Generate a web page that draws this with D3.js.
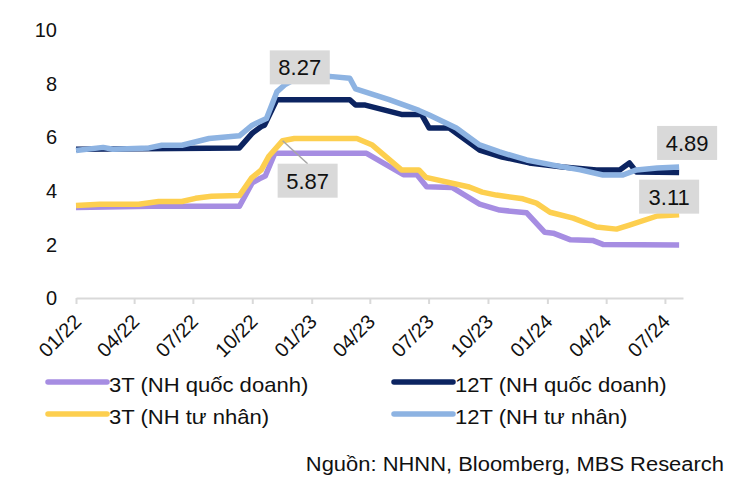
<!DOCTYPE html>
<html>
<head>
<meta charset="utf-8">
<script src="https://cdn.jsdelivr.net/npm/d3@7"></script>
<style>
  body { margin: 0; background: #fff; }
  text { font-family: "Liberation Sans", Arial, sans-serif; }
</style>
</head>
<body>
<div id="chart-area"></div>
<script>

// Series data: [date, rate %]
var qdShort = [
	["2022-01-01", 3.38], ["2022-04-28", 3.42], ["2022-09-11", 3.42], ["2022-10-01", 4.3],
	["2022-10-12", 4.45], ["2022-10-21", 4.55], ["2022-11-05", 5.4], ["2023-03-27", 5.4],
	["2023-05-23", 4.6], ["2023-06-13", 4.6], ["2023-06-28", 4.15], ["2023-08-07", 4.12],
	["2023-09-18", 3.5], ["2023-10-19", 3.28], ["2023-11-30", 3.18], ["2023-12-28", 2.45],
	["2024-01-10", 2.42], ["2024-02-06", 2.17], ["2024-03-11", 2.15], ["2024-03-27", 2.0],
	["2024-07-23", 1.98]
];
var qdLong = [
	["2022-01-01", 5.55], ["2022-09-11", 5.6], ["2022-10-01", 6.15], ["2022-10-15", 6.4],
	["2022-10-20", 6.45], ["2022-11-08", 7.4], ["2023-03-01", 7.4], ["2023-03-10", 7.2],
	["2023-03-25", 7.2], ["2023-05-20", 6.85], ["2023-06-20", 6.85], ["2023-07-02", 6.34],
	["2023-08-02", 6.34], ["2023-09-18", 5.52], ["2023-10-23", 5.26], ["2023-12-04", 5.04],
	["2024-01-25", 4.89], ["2024-03-17", 4.78], ["2024-04-22", 4.78], ["2024-05-07", 5.04],
	["2024-05-18", 4.7], ["2024-07-23", 4.68]
];
var tnShort = [
	["2022-01-01", 3.45], ["2022-02-07", 3.5], ["2022-04-08", 3.5], ["2022-05-09", 3.6],
	["2022-06-14", 3.6], ["2022-07-05", 3.72], ["2022-07-30", 3.8], ["2022-09-11", 3.82],
	["2022-09-30", 4.48], ["2022-10-15", 4.78], ["2022-10-27", 5.3], ["2022-11-17", 5.87],
	["2022-12-05", 5.95], ["2023-03-12", 5.95], ["2023-04-04", 5.72], ["2023-05-20", 4.78],
	["2023-06-16", 4.78], ["2023-06-27", 4.5], ["2023-09-02", 4.14], ["2023-09-22", 3.95],
	["2023-10-14", 3.84], ["2023-11-24", 3.7], ["2023-12-15", 3.54], ["2024-01-05", 3.2],
	["2024-02-10", 2.98], ["2024-03-17", 2.65], ["2024-04-17", 2.57], ["2024-05-07", 2.72],
	["2024-06-19", 3.06], ["2024-07-23", 3.11]
];
var tnLong = [
	["2022-01-01", 5.5], ["2022-02-12", 5.62], ["2022-02-27", 5.55], ["2022-04-24", 5.6],
	["2022-05-14", 5.7], ["2022-06-14", 5.7], ["2022-07-26", 5.95], ["2022-09-11", 6.05],
	["2022-10-01", 6.45], ["2022-10-23", 6.7], ["2022-11-08", 7.69], ["2022-11-20", 7.95],
	["2022-12-13", 8.25], ["2023-01-29", 8.27], ["2023-03-01", 8.2], ["2023-03-10", 7.8],
	["2023-05-01", 7.4], ["2023-06-16", 7.0], ["2023-07-02", 6.83], ["2023-08-13", 6.34],
	["2023-09-18", 5.71], ["2023-10-19", 5.45], ["2023-11-30", 5.15], ["2024-01-16", 4.93],
	["2024-02-21", 4.78], ["2024-03-27", 4.59], ["2024-04-27", 4.59], ["2024-05-18", 4.78],
	["2024-06-19", 4.85], ["2024-07-23", 4.89]
];

var seriesNames = ["3T (NH quốc doanh)", "12T (NH quốc doanh)", "3T (NH tư nhân)", "12T (NH tư nhân)"];
var seriesColors = ["#a68de2", "#0c2461", "#fdcf4f", "#8db3e2"];
var yTicks = [0, 2, 4, 6, 8, 10];

// data labels: series index, date, value
var labels = [
	{s: 3, date: "2023-01-29", value: 8.27, dx: -30, dy: -9},
	{s: 2, date: "2022-11-17", value: 5.87, dx: 25, dy: 40, leader: true},
	{s: 3, date: "2024-07-23", value: 4.89, dx: 8, dy: -24},
	{s: 2, date: "2024-07-23", value: 3.11, dx: -10, dy: -18}
];

var sourceText = "Nguồn: NHNN, Bloomberg, MBS Research";

var width = 750, height = 501;
var parseDate = d3.timeParse("%Y-%m-%d");

var svg = d3.select("#chart-area").append("svg")
	.attr("width", width)
	.attr("height", height);

var x = d3.scaleTime()
	.domain([parseDate("2022-01-01"), parseDate("2024-07-29")])
	.range([76, 683]);

var y = d3.scaleLinear()
	.domain([0, 10])
	.range([298, 30]);

// y labels (no axis line, no grid)
svg.selectAll(".ylab")
	.data(yTicks)
	.enter()
	.append("text")
	.attr("class", "ylab")
	.attr("x", 57)
	.attr("y", d => y(d))
	.attr("dy", "0.36em")
	.attr("text-anchor", "end")
	.attr("font-size", 20)
	.attr("fill", "#111")
	.text(d => d);

// x axis
var xAxis = d3.axisBottom(x)
	.tickValues(d3.timeMonth.range(parseDate("2022-01-01"), parseDate("2024-07-02"), 3))
	.tickFormat(d3.timeFormat("%m/%y"))
	.tickSize(6)
	.tickSizeOuter(0);

var xAxisGroup = svg.append("g")
	.attr("class", "x-axis axis")
	.attr("transform", "translate(0,298)")
	.call(xAxis);

xAxisGroup.select(".domain").attr("stroke", "#d9d9d9").attr("stroke-width", 2);
xAxisGroup.selectAll(".tick line").attr("stroke", "#d9d9d9").attr("stroke-width", 2);
xAxisGroup.selectAll(".tick text")
	.attr("font-family", "Liberation Sans, Arial, sans-serif")
	.attr("font-size", 20)
	.attr("fill", "#111")
	.attr("text-anchor", "end")
	.attr("x", 0)
	.attr("y", 0)
	.attr("dy", 0)
	.attr("transform", "translate(6,25) rotate(-45)");

// lines
var allSeries = [qdShort, qdLong, tnShort, tnLong].map(s => s.map(p => ({date: parseDate(p[0]), value: p[1]})));

var line = d3.line()
	.x(d => x(d.date))
	.y(d => y(d.value));

svg.selectAll(".series")
	.data(allSeries)
	.enter()
	.append("path")
	.attr("class", "series")
	.attr("d", line)
	.attr("fill", "none")
	.attr("stroke", (d, i) => seriesColors[i])
	.attr("stroke-width", 5.5)
	.attr("stroke-linejoin", "round");

// data labels
labels.forEach(function(l) {
	var px = x(parseDate(l.date)), py = y(l.value);
	var cx = px + l.dx, cy = py + l.dy;
	if (l.leader) {
		svg.append("line")
			.attr("x1", px).attr("y1", py)
			.attr("x2", cx).attr("y2", cy - 17)
			.attr("stroke", "#a6a6a6")
			.attr("stroke-width", 1.5);
	}
	svg.append("rect")
		.attr("x", cx - 30).attr("y", cy - 17)
		.attr("width", 60).attr("height", 34)
		.attr("fill", "#d9d9d9");
	svg.append("text")
		.attr("x", cx).attr("y", cy)
		.attr("dy", "0.36em")
		.attr("text-anchor", "middle")
		.attr("font-size", 22)
		.attr("fill", "#111")
		.text(l.value.toFixed(2));
});

// legend
var legendPos = [[48, 382], [394, 382], [48, 414], [394, 414]];
var legend = svg.selectAll(".legend")
	.data(seriesNames)
	.enter()
	.append("g")
	.attr("class", "legend")
	.attr("transform", (d, i) => "translate(" + legendPos[i][0] + "," + legendPos[i][1] + ")");

legend.append("line")
	.attr("x1", 0).attr("x2", 59)
	.attr("stroke", (d, i) => seriesColors[i])
	.attr("stroke-width", 5.5)
	.attr("stroke-linecap", "round");

legend.append("text")
	.attr("transform", "translate(61,10) scale(1.05,1)")
	.attr("font-size", 21)
	.attr("fill", "#111")
	.text(d => d);

svg.append("text")
	.attr("transform", "translate(724,471) scale(1.045,1)")
	.attr("text-anchor", "end")
	.attr("font-size", 21)
	.attr("fill", "#111")
	.text(sourceText);

</script>
</body>
</html>
